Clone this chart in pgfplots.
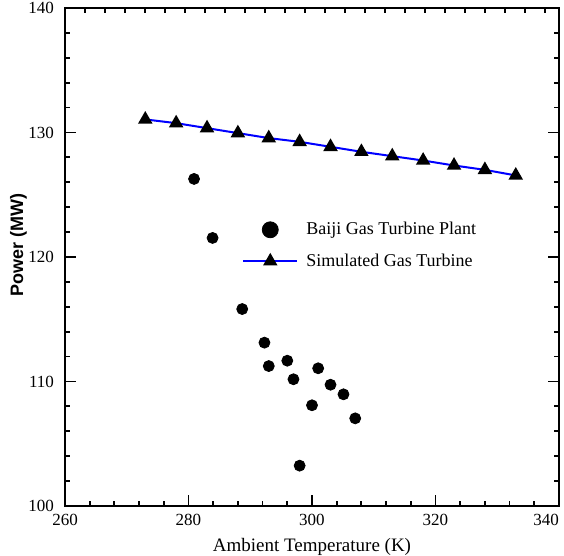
\documentclass[border=0pt]{standalone}
\usepackage{fontspec}
\setmainfont{Liberation Serif}
\newfontfamily\labelsans{Liberation Sans}
\usepackage{pgfplots}
\usepackage{pgfplotstable}
\pgfplotsset{compat=1.18}

\pgfplotsset{
    widelegend/.style={legend image code/.code={\draw[mark repeat=2,mark phase=2,##1] plot coordinates {(0cm,0cm)(0.475cm,0cm)(0.95cm,0cm)};}},
    bigdotlegend/.style={legend image code/.code={\draw[##1, mark size=4pt] plot coordinates {(0.475cm,0cm)};}},
}

% simulated gas turbine (line with triangles)
\pgfplotstableread{
T P
273 131.05
278 130.75
283 130.35
288 129.95
293 129.55
298 129.25
303 128.85
308 128.45
313 128.10
318 127.75
323 127.35
328 127.00
333 126.55
}\simdata

% measured, Baiji plant
\pgfplotstableread{
T P
280.9 126.27
283.9 121.53
288.7 115.82
292.3 113.12
293.0 111.24
296.0 111.67
297.0 110.18
301.0 111.06
300.0 108.09
303.0 109.74
305.1 108.97
307.0 107.04
298.0 103.24
}\plantdata

\begin{document}
\begin{tikzpicture}
\begin{axis}[
    name=ax,
    scale only axis,
    width=247pt, height=249pt,
    xmin=260, xmax=340,
    ymin=100, ymax=140,
    xtick={260,280,...,340},
    xticklabels={260,280,300,320,\makebox[0pt][r]{340}},
    ytick={100,110,...,140},
    minor x tick num=4,
    minor y tick num=4,
    xtick pos=left,
    ytick pos=both,
    yticklabel pos=left,
    tick align=inside,
    major tick length=5.5pt,
    minor tick length=2.5pt,
    axis line style={line width=1.4pt},
    every tick/.append style={line width=0.9pt, black},
    /pgf/number format/assume math mode=true,
    tick label style={font=\fontsize{8.5}{10}\selectfont},
    yticklabel style={xshift=-2pt},
    xticklabel style={yshift=-0.5pt},
    xlabel={Ambient Temperature (K)},
    ylabel={Power (MW)},
    every axis x label/.style={at={(axis description cs:0.5,0)}, anchor=center, yshift=-20.5pt,
        font=\fontsize{9.5}{11}\selectfont},
    every axis y label/.style={at={(axis description cs:-0.094,0.525)}, rotate=90, anchor=center,
        font=\labelsans\bfseries\fontsize{9}{10}\selectfont},
    legend style={at={(axis description cs:0.358,0.523)}, anchor=west, draw=none, fill=none,
        font=\fontsize{9}{11}\selectfont, row sep=4pt, inner sep=0pt},
    legend cell align=left,
    widelegend,
]
\addplot[only marks, mark=*, mark size=2.75pt, black, bigdotlegend]
    table[x=T, y=P] {\plantdata};
\addlegendentry{\hspace{2pt}Baiji Gas Turbine Plant}
\addplot[blue, line width=1pt, mark=triangle*, mark size=3.2pt,
    mark options={fill=black, draw=black, solid}]
    table[x=T, y=P] {\simdata};
\addlegendentry{\hspace{2pt}Simulated Gas Turbine}
\end{axis}
% extra top ticks of the original frame
\begin{axis}[
    scale only axis,
    width=247pt, height=249pt,
    xmin=0, xmax=24.7, ymin=0, ymax=1,
    xtick={1,2,...,24},
    xticklabels={},
    xtick pos=right,
    ytick=\empty,
    axis line style={draw=none},
    tick align=inside,
    major tick length=2.5pt,
    every tick/.append style={line width=0.9pt, black},
]
\end{axis}
\pgfresetboundingbox
\path[use as bounding box] (-32.5pt,-25pt) rectangle (249.5pt,253pt);
\end{tikzpicture}
\end{document}
